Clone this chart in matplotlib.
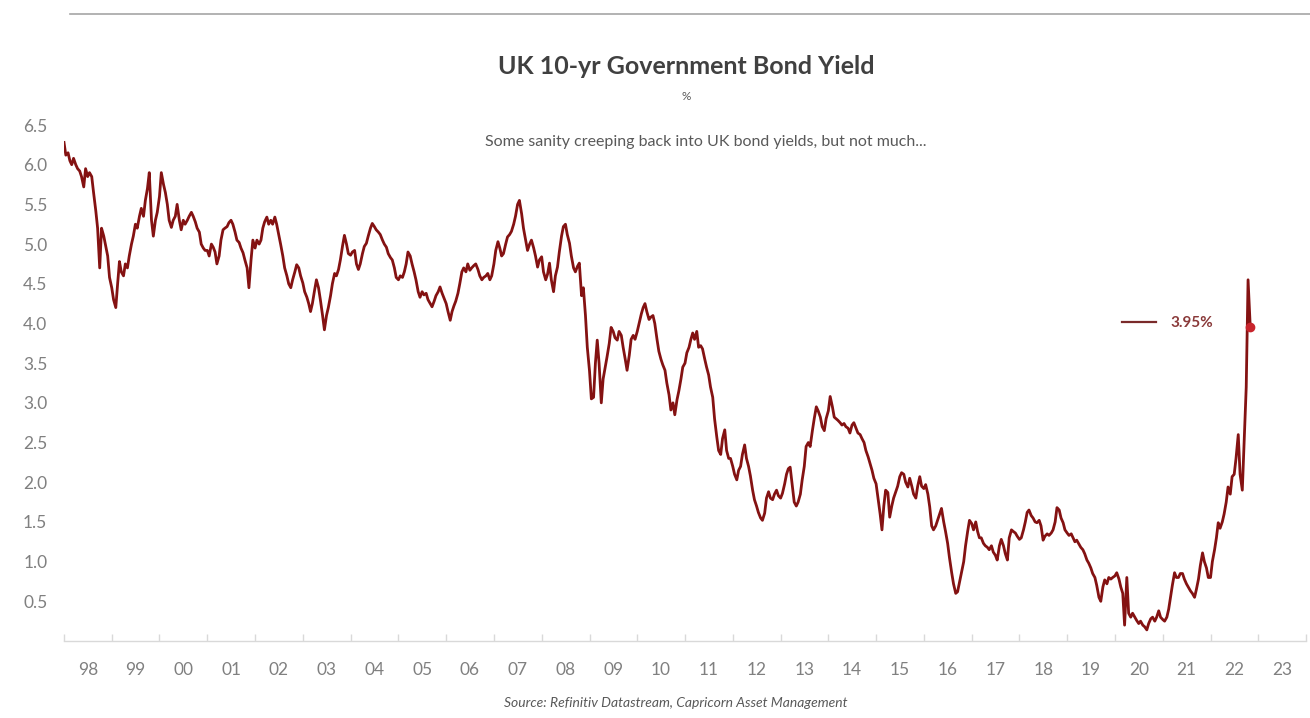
import numpy as np
import pandas as pd
import matplotlib
matplotlib.use("Agg")
import matplotlib.pyplot as plt
from matplotlib.lines import Line2D

# Semi-monthly readings (1st & 15th of each month), UK 10-yr gilt yield, %
y1998 = [6.28, 6.12, 6.15, 6.05, 6.00, 6.08, 6.00, 5.95, 5.92, 5.85, 5.72, 5.95, 5.85, 5.90, 5.85, 5.65, 5.42, 5.20, 4.70, 5.20, 5.10, 4.98, 4.85, 4.58]
y1999 = [4.45, 4.30, 4.20, 4.50, 4.78, 4.65, 4.60, 4.75, 4.70, 4.85, 5.00, 5.10, 5.25, 5.20, 5.35, 5.45, 5.35, 5.55, 5.70, 5.90, 5.30, 5.10, 5.30, 5.40]
y2000 = [5.60, 5.90, 5.75, 5.65, 5.50, 5.30, 5.21, 5.30, 5.35, 5.50, 5.30, 5.18, 5.30, 5.25, 5.30, 5.35, 5.40, 5.35, 5.28, 5.20, 5.15, 5.00, 4.95, 4.92]
y2001 = [4.92, 4.85, 5.00, 4.96, 4.90, 4.75, 4.85, 5.05, 5.18, 5.20, 5.22, 5.27, 5.30, 5.25, 5.15, 5.05, 5.02, 4.95, 4.89, 4.80, 4.70, 4.45, 4.80, 5.05]
y2002 = [4.95, 5.05, 5.00, 5.05, 5.20, 5.28, 5.34, 5.25, 5.30, 5.25, 5.34, 5.25, 5.12, 5.00, 4.85, 4.70, 4.60, 4.50, 4.45, 4.55, 4.65, 4.74, 4.70, 4.60]
y2003 = [4.51, 4.40, 4.33, 4.25, 4.15, 4.25, 4.42, 4.55, 4.45, 4.30, 4.10, 3.92, 4.10, 4.20, 4.35, 4.50, 4.63, 4.60, 4.68, 4.80, 4.98, 5.11, 5.00, 4.88]
y2004 = [4.86, 4.90, 4.92, 4.75, 4.68, 4.75, 4.88, 4.97, 5.01, 5.10, 5.20, 5.26, 5.22, 5.18, 5.15, 5.12, 5.05, 5.00, 4.96, 4.88, 4.83, 4.80, 4.70, 4.58]
y2005 = [4.55, 4.60, 4.58, 4.65, 4.75, 4.90, 4.85, 4.75, 4.65, 4.55, 4.40, 4.33, 4.40, 4.36, 4.38, 4.30, 4.25, 4.21, 4.28, 4.35, 4.40, 4.46, 4.38, 4.32]
y2006 = [4.25, 4.15, 4.04, 4.15, 4.22, 4.28, 4.38, 4.50, 4.65, 4.70, 4.65, 4.75, 4.67, 4.70, 4.73, 4.75, 4.68, 4.60, 4.55, 4.58, 4.60, 4.63, 4.55, 4.60]
y2007 = [4.75, 4.92, 5.03, 4.95, 4.85, 4.88, 5.00, 5.09, 5.12, 5.16, 5.25, 5.35, 5.50, 5.55, 5.38, 5.20, 5.05, 4.92, 5.00, 5.05, 4.95, 4.85, 4.71, 4.80]
y2008 = [4.84, 4.65, 4.55, 4.62, 4.76, 4.55, 4.40, 4.60, 4.71, 4.90, 5.10, 5.22, 5.25, 5.12, 5.01, 4.85, 4.70, 4.65, 4.72, 4.76, 4.35, 4.45, 4.10, 3.70]
y2009 = [3.40, 3.05, 3.07, 3.50, 3.79, 3.50, 3.00, 3.30, 3.45, 3.58, 3.75, 3.95, 3.90, 3.82, 3.79, 3.90, 3.85, 3.70, 3.55, 3.41, 3.60, 3.80, 3.85, 3.80]
y2010 = [3.90, 4.00, 4.12, 4.20, 4.25, 4.15, 4.05, 4.08, 4.10, 4.00, 3.80, 3.65, 3.55, 3.48, 3.41, 3.25, 3.10, 2.91, 3.00, 2.85, 3.04, 3.15, 3.30, 3.45]
y2011 = [3.50, 3.63, 3.70, 3.80, 3.88, 3.80, 3.90, 3.70, 3.72, 3.68, 3.55, 3.45, 3.35, 3.20, 3.07, 2.80, 2.57, 2.40, 2.35, 2.55, 2.66, 2.40, 2.30, 2.30]
y2012 = [2.20, 2.10, 2.03, 2.15, 2.20, 2.35, 2.47, 2.30, 2.20, 2.08, 1.90, 1.78, 1.70, 1.62, 1.55, 1.52, 1.61, 1.80, 1.88, 1.80, 1.78, 1.85, 1.90, 1.83]
y2013 = [1.80, 1.86, 1.98, 2.10, 2.17, 2.19, 1.95, 1.75, 1.70, 1.75, 1.85, 2.03, 2.20, 2.45, 2.50, 2.45, 2.65, 2.80, 2.95, 2.90, 2.82, 2.70, 2.65, 2.80]
y2014 = [2.90, 3.08, 2.95, 2.82, 2.80, 2.78, 2.75, 2.72, 2.74, 2.70, 2.68, 2.62, 2.72, 2.75, 2.68, 2.62, 2.60, 2.55, 2.50, 2.40, 2.32, 2.24, 2.15, 2.05]
y2015 = [1.98, 1.81, 1.60, 1.40, 1.70, 1.90, 1.87, 1.56, 1.70, 1.80, 1.88, 1.95, 2.07, 2.12, 2.10, 2.00, 1.94, 2.05, 1.95, 1.85, 1.80, 1.95, 2.07, 1.95]
y2016 = [1.92, 1.97, 1.85, 1.69, 1.45, 1.40, 1.45, 1.52, 1.60, 1.67, 1.50, 1.38, 1.23, 1.05, 0.86, 0.72, 0.60, 0.62, 0.75, 0.86, 1.00, 1.20, 1.38, 1.52]
y2017 = [1.48, 1.40, 1.50, 1.38, 1.30, 1.30, 1.23, 1.20, 1.18, 1.15, 1.20, 1.12, 1.08, 1.02, 1.20, 1.28, 1.20, 1.10, 1.02, 1.30, 1.40, 1.38, 1.36, 1.32]
y2018 = [1.28, 1.30, 1.40, 1.50, 1.62, 1.65, 1.58, 1.55, 1.50, 1.49, 1.52, 1.45, 1.27, 1.32, 1.35, 1.33, 1.36, 1.40, 1.50, 1.68, 1.65, 1.55, 1.49, 1.40]
y2019 = [1.36, 1.33, 1.35, 1.30, 1.25, 1.27, 1.22, 1.18, 1.15, 1.10, 1.02, 0.98, 0.92, 0.85, 0.80, 0.70, 0.55, 0.50, 0.68, 0.77, 0.72, 0.80, 0.78, 0.80]
y2020 = [0.82, 0.86, 0.78, 0.68, 0.60, 0.20, 0.80, 0.35, 0.30, 0.35, 0.30, 0.26, 0.22, 0.25, 0.20, 0.18, 0.14, 0.22, 0.28, 0.30, 0.25, 0.30, 0.38, 0.30]
y2021 = [0.27, 0.25, 0.30, 0.40, 0.55, 0.70, 0.86, 0.80, 0.80, 0.85, 0.85, 0.78, 0.72, 0.68, 0.63, 0.60, 0.55, 0.65, 0.78, 0.95, 1.11, 1.00, 0.92, 0.80]
y2022 = [0.80, 1.00, 1.15, 1.30, 1.49, 1.42, 1.50, 1.60, 1.75, 1.94, 1.85, 2.07, 2.10, 2.30, 2.60, 2.10, 1.90, 2.50, 3.20, 4.55, 3.95]

yearly = [y1998, y1999, y2000, y2001, y2002, y2003, y2004, y2005, y2006, y2007,
          y2008, y2009, y2010, y2011, y2012, y2013, y2014, y2015, y2016, y2017,
          y2018, y2019, y2020, y2021, y2022]
values = np.concatenate([np.array(v, dtype=float) for v in yearly])
dates = pd.date_range("1998-01-01", periods=len(values), freq="SMS")

year_labels = ["98", "99", "00", "01", "02", "03", "04", "05", "06", "07", "08", "09", "10",
               "11", "12", "13", "14", "15", "16", "17", "18", "19", "20", "21", "22", "23"]
y_ticks = [0.5, 1.0, 1.5, 2.0, 2.5, 3.0, 3.5, 4.0, 4.5, 5.0, 5.5, 6.0, 6.5]

title = "UK 10-yr Government Bond Yield"
unit = "%"
subtitle = "Some sanity creeping back into UK bond yields, but not much..."
source = "Source: Refinitiv Datastream, Capricorn Asset Management"

plt.rcParams["font.family"] = ["Lato", "DejaVu Sans"]

W, H = 1310, 718
fig = plt.figure(figsize=(W / 100, H / 100), dpi=100)
fig.patch.set_facecolor("white")

ax = fig.add_axes([64 / W, 1 - 641 / H, (1306 - 64) / W, (641 - 125) / H])
line_color = "#841212"
ax.plot(dates, values, color=line_color, lw=2.0, solid_joinstyle="round")
ax.plot(dates[-1], values[-1], "o", color="#c8242c", ms=6, zorder=5)

ax.set_xlim(pd.Timestamp("1998-01-01"), pd.Timestamp("2024-01-01"))
ax.set_ylim(0, 6.5)

for s in ["top", "right", "left"]:
    ax.spines[s].set_visible(False)
ax.spines["bottom"].set_color("#d9d9d9")
ax.spines["bottom"].set_linewidth(1.0)

ax.set_yticks(y_ticks)
ax.set_yticklabels([f"{t:.1f}" for t in y_ticks])
ax.tick_params(axis="y", length=0, pad=12, labelsize=12.5, labelcolor="#808080")

major = [pd.Timestamp(f"{1998 + i}-01-01") for i in range(27)]
minor = [pd.Timestamp(f"{1998 + i}-07-02") for i in range(len(year_labels))]
ax.set_xticks(major)
ax.set_xticklabels([""] * len(major))
ax.set_xticks(minor, minor=True)
ax.set_xticklabels(year_labels, minor=True)
ax.tick_params(axis="x", which="major", direction="in", length=5, color="#d9d9d9", width=1)
ax.tick_params(axis="x", which="minor", length=0, pad=15, labelsize=12.5, labelcolor="#808080")

leg = ax.legend(handles=[Line2D([], [], color="#7a2a2a", lw=1.6)],
                labels=[f"{values[-1]:.2f}%"], loc="center left",
                bbox_to_anchor=((1122 - 64) / (1306 - 64), (641 - 323) / (641 - 125)),
                frameon=False, handlelength=2.2, handletextpad=1.0,
                borderaxespad=0, borderpad=0, fontsize=11)
for t in leg.get_texts():
    t.set_color("#8a3a3a")
    t.set_fontweight("bold")

fig.text(686 / W, 1 - 67 / H, title, ha="center", va="center", fontsize=18,
         fontweight="bold", color="#404040")
fig.text(686 / W, 1 - 97 / H, unit, ha="center", va="center", fontsize=8.5, color="#595959")
fig.text(706 / W, 1 - 142 / H, subtitle, ha="center", va="center", fontsize=11.5, color="#595959")
fig.text(676 / W, 1 - 703 / H, source, ha="center", va="center", fontsize=10,
         style="italic", color="#595959")

fig.add_artist(Line2D([70 / W, 1.0], [1 - 14 / H, 1 - 14 / H], color="#a6a6a6", lw=1.2))

fig.savefig("out.png", dpi=100)
